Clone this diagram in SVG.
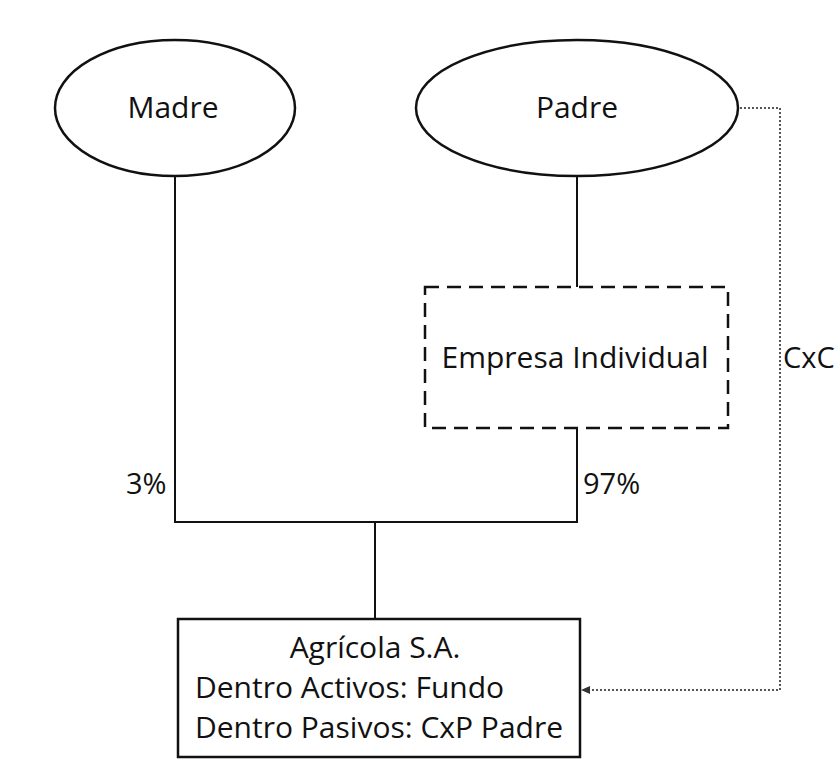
<svg xmlns="http://www.w3.org/2000/svg" width="839" height="759" viewBox="0 0 839 759">
<style>
text{font-family:"Open Sans","Noto Sans",sans-serif;font-size:30px;fill:#111}
.n{fill:#fff;stroke:#111;stroke-width:2.5}
.c{stroke:#111;stroke-width:2;fill:none}
.d{stroke:#555;stroke-width:2;fill:none;stroke-dasharray:2 2}
</style>
<defs>
<marker id="ah" markerWidth="10" markerHeight="10" refX="8" refY="5" orient="auto" markerUnits="userSpaceOnUse">
<path d="M0,1 L9,5 L0,9 Z" fill="#333"/>
</marker>
</defs>
<rect width="839" height="759" fill="#fff"/>
<g id="connectors">
<path class="c" d="M175,175 V522 H577 V428"/>
<path class="c" d="M577,175 V287"/>
<path class="c" d="M375,522 V619"/>
<path class="d" d="M740,108 H780 V690 H582" marker-end="url(#ah)"/>
<text x="126" y="494" style="font-size:29px">3%</text>
<text x="583" y="494" style="font-size:29px">97%</text>
<text x="783" y="368" style="font-size:29px">CxC</text>
</g>
<g id="madre">
<ellipse class="n" cx="175" cy="108" rx="120" ry="68"/>
<text x="173" y="118" text-anchor="middle">Madre</text>
</g>
<g id="padre">
<ellipse class="n" cx="577" cy="108" rx="161" ry="68"/>
<text x="577" y="118" text-anchor="middle">Padre</text>
</g>
<g id="empresa">
<rect x="425" y="287" width="303" height="141" fill="#fff" stroke="#111" stroke-width="2.5" stroke-dasharray="14 8"/>
<text x="575" y="368" text-anchor="middle">Empresa Individual</text>
</g>
<g id="agricola">
<rect class="n" x="178" y="619" width="402" height="138"/>
<text x="375" y="658" text-anchor="middle">Agrícola S.A.</text>
<text x="195" y="698">Dentro Activos: Fundo</text>
<text x="195" y="738">Dentro Pasivos: CxP Padre</text>
</g>
</svg>
